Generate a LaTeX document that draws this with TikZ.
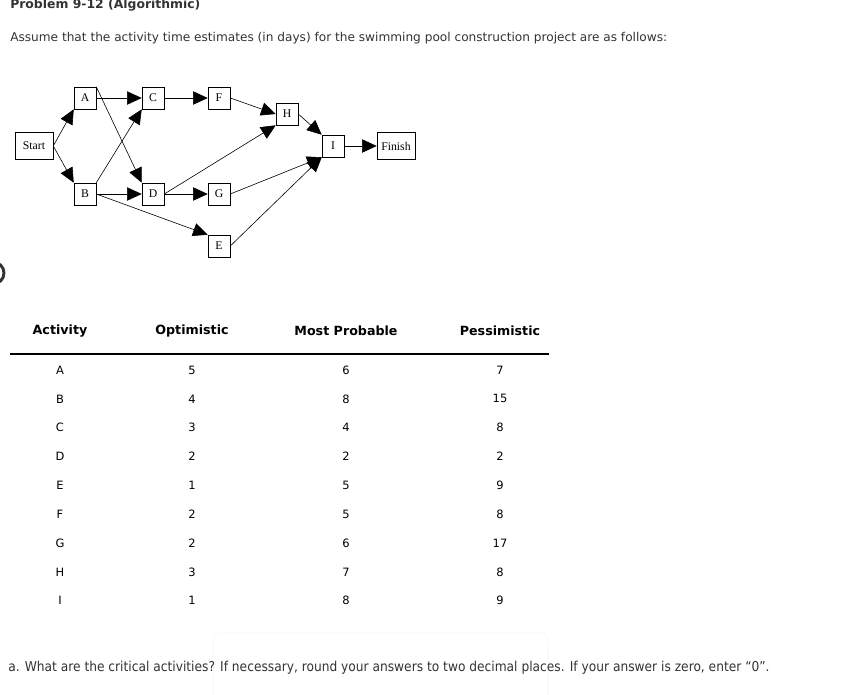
\documentclass[tikz,border=0pt]{standalone}
\usepackage{fontspec}
\setmainfont{DejaVu Sans}
\newfontfamily\condf{DejaVu Sans Condensed}
\newfontfamily\serf{Liberation Serif}
\usetikzlibrary{arrows.meta}
\definecolor{txt}{HTML}{333333}
\tikzset{
  box/.style={draw,thin,minimum width=16.5pt,minimum height=16.5pt,inner sep=1pt,font=\serf\fontsize{8.8}{9}\selectfont},
  wbox/.style={box,minimum width=28.5pt,minimum height=20pt},
  arr/.style={-{Triangle[length=11pt,width=10pt]},line width=0.45pt},
  hd/.style={font=\bfseries\fontsize{9.5}{11}\selectfont,text=black},
  val/.style={font=\fontsize{8.6}{10}\selectfont,text=black}
}
\begin{document}
\begin{tikzpicture}[x=0.75pt,y=-0.75pt]
\useasboundingbox (0,0) rectangle (861,694);
\node[anchor=base west,font=\bfseries\fontsize{9.3}{11}\selectfont,text=txt,inner sep=0] (t) at (10,8) {Problem 9-12 (Algorithmic)};
\node[anchor=base west,font=\fontsize{9.1}{11}\selectfont,text=txt,inner sep=0] (s) at (10,41) {Assume that the activity time estimates (in days) for the swimming pool construction project are as follows:};
% network
\node[wbox] (st) at (34,146) {Start};
\node[box] (A) at (85,98) {A};
\node[box] (B) at (85,194) {B};
\node[box] (C) at (153,98) {C};
\node[box] (D) at (153,194) {D};
\node[box] (F) at (219,98) {F};
\node[box] (G) at (219,194) {G};
\node[box] (E) at (219,246) {E};
\node[box] (H) at (287,114) {H};
\node[box] (I) at (333,146) {I};
\node[wbox] (fi) at (396,146) {Finish};
\draw[arr] (st.east) -- (A.south west);
\draw[arr] (st.east) -- (B.north west);
\draw[arr] (A.east) -- (C.west);
\draw[arr] (A.north east) -- (D.north west);
\draw[arr] (B.north east) -- (C.south west);
\draw[arr] (B.east) -- (D.west);
\draw[arr] (B.east) -- (E.north west);
\draw[arr] (C.east) -- (F.west);
\draw[arr] (D.east) -- (G.west);
\draw[arr] (D.east) -- (H.south west);
\draw[arr] (F.east) -- (H.west);
\draw[arr] (H.east) -- (I.north west);
\draw[arr] (G.east) -- (I.south west);
\draw[arr] (E.east) -- (I.south west);
\draw[arr] (I.east) -- (fi.west);
% left paren
\draw[line width=2.2pt,txt] (-7,284) arc[start angle=90,end angle=-90,radius=11];
% table
\node[hd] (h1) at (60,331) {Activity};
\node[hd] (h2) at (192,331) {Optimistic};
\node[hd] (h3) at (346,331) {Most Probable};
\node[hd] (h4) at (500,331) {Pessimistic};
\draw[line width=0.9pt] (10,354) -- (549,354);
\foreach \a/\o/\m/\p [count=\i] in {A/5/6/7,B/4/8/15,C/3/4/8,D/2/2/2,E/1/5/9,F/2/5/8,G/2/6/17,H/3/7/8,I/1/8/9}{
  \pgfmathsetmacro\yy{370+(\i-1)*28.85}
  \node[val] (a\i) at (60,\yy) {\a};
  \node[val] (o\i) at (192,\yy) {\o};
  \node[val] (m\i) at (346,\yy) {\m};
  \node[val] (p\i) at (500,\yy) {\p};
}
\draw[draw=black!4,rounded corners=6] (213,700) -- (213,633) -- (548,633) -- (548,700);
\node[anchor=base west,font=\condf\fontsize{10.2}{12}\selectfont,text=txt,inner sep=0] (q) at (8,671) {a. What are the critical activities? If necessary, round your answers to two decimal places. If your answer is zero, enter “0”.};
\end{tikzpicture}
\end{document}
